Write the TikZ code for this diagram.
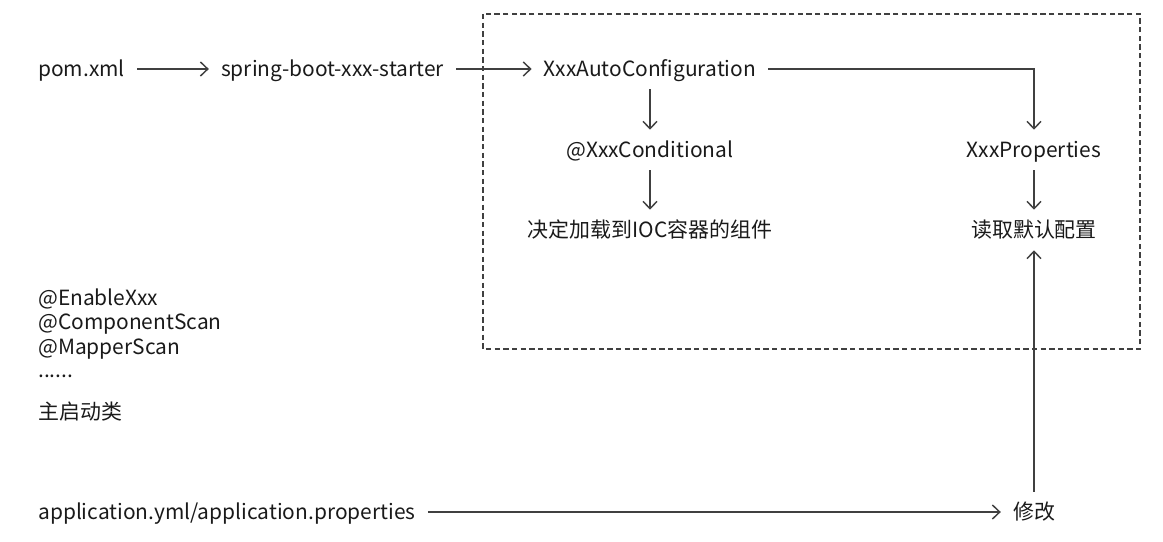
\documentclass[tikz,border=0pt]{standalone}
\usepackage{fontspec}
\setmainfont{Noto Sans CJK SC}
\usetikzlibrary{arrows.meta}
\definecolor{ink}{HTML}{1A1A1A}
\definecolor{wire}{HTML}{404040}
\begin{document}
\begin{tikzpicture}[x=0.75pt,y=-0.75pt,
  lbl/.style={text=ink,font=\fontsize{15.7}{19}\selectfont,inner xsep=9pt,inner ysep=0pt,minimum height=30pt,text height=14pt,text depth=3pt},
  plain/.style={text=ink,font=\fontsize{15.7}{19}\selectfont,inner sep=0pt,anchor=west},
  conn/.style={draw=wire,line width=1.1pt,-{Straight Barb[length=5.5pt,width=10.5pt]}}]
\useasboundingbox (0,0) rectangle (1163,542);
\draw[wire,line width=1pt,dash pattern=on 4pt off 2.5pt] (483,14) rectangle (1140,349);
\node[lbl,anchor=west] (pom) at (26,69) {pom.xml};
\node[lbl] (starter) at (332.5,69) {spring-boot-xxx-starter};
\node[lbl] (auto) at (650,69) {XxxAutoConfiguration};
\node[lbl] (cond) at (650,150) {@XxxConditional};
\node[lbl] (ioc) at (650,230) {决定加载到IOC容器的组件};
\node[lbl] (props) at (1034,150) {XxxProperties};
\node[lbl] (read) at (1034,230) {读取默认配置};
\node[lbl] (modify) at (1034,512) {修改};
\node[lbl,anchor=west] (app) at (26,512) {application.yml/application.properties};
\node[plain] (e1) at (38,299) {@EnableXxx};
\node[plain] (e2) at (38,324) {@ComponentScan};
\node[plain] (e3) at (38,349) {@MapperScan};
\node[plain] (e4) at (38,376) {......};
\node[plain] (e5) at (38,412) {主启动类};
\draw[conn] (pom) -- (starter);
\draw[conn] (starter) -- (auto);
\draw[conn] (auto) -- (cond);
\draw[conn] (cond) -- (ioc);
\draw[conn] (auto.east) -| (props.north);
\draw[conn] (props) -- (read);
\draw[conn] (modify) -- (read);
\draw[conn] (app) -- (modify);
\end{tikzpicture}
\end{document}
